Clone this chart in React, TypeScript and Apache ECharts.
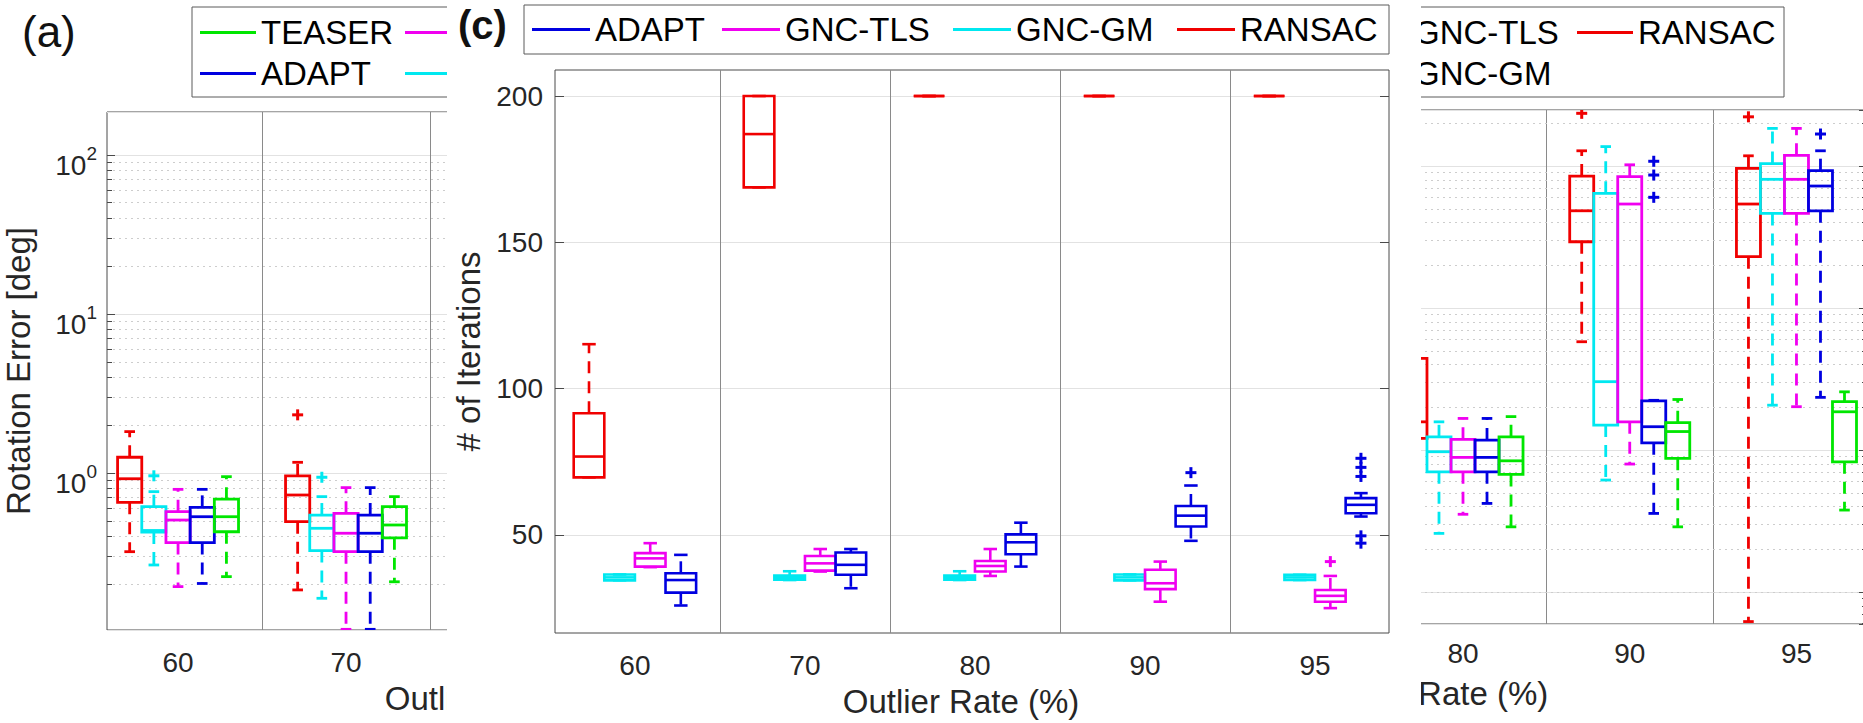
import React, { useEffect, useRef } from 'react';
import * as echarts from 'echarts';

const FONT = "'Liberation Sans', Arial, Helvetica, sans-serif";
const INK = '#262626';
const FRAME = '#4a4a4a';
const MAJOR_GRID = '#e2e2e2';
const MINOR_GRID = '#cdcdcd';
const GROUP_SEP = '#8a8a8a';

const CATEGORIES = ['60', '70', '80', '90', '95'];

const COLORS: Record<string, string> = {
  RANSAC: '#f00000',
  'GNC-GM': '#00e8f0',
  'GNC-TLS': '#f000f0',
  ADAPT: '#0000e0',
  TEASER: '#00e600',
};

// Box rows: [lower whisker, Q1, median, Q3, upper whisker]
// Outlier rows: [group index, value]

// (a) Rotation error [deg]
const rotGroups = [0, 1];
const rotRansac = [[0.32, 0.654, 0.92, 1.256, 1.82], [0.184, 0.494, 0.727, 0.958, 1.167]];
const rotGncGm = [[0.264, 0.425, 0.435, 0.614, 0.763], [0.163, 0.325, 0.449, 0.544, 0.71]];
const rotGncTls = [[0.193, 0.365, 0.506, 0.571, 0.789], [0.104, 0.32, 0.418, 0.558, 0.809]];
const rotAdapt = [[0.202, 0.365, 0.531, 0.608, 0.789], [0.104, 0.32, 0.418, 0.544, 0.809]];
const rotTeaser = [[0.223, 0.427, 0.531, 0.684, 0.948], [0.207, 0.391, 0.471, 0.614, 0.71]];
const rotOutRansac = [[1, 2.32]];
const rotOutGncGm = [[0, 0.96], [1, 0.94]];

// (b) error on a log scale
const errGroups = [2, 3, 4];
const errRansac = [[0.05, 0.121, 0.158, 0.442, 0.8], [0.579, 2.93, 4.84, 8.5, 12.8], [0.0062, 2.3, 5.4, 9.63, 11.8]];
const errGncGm = [[0.0259, 0.0703, 0.0973, 0.124, 0.158], [0.0615, 0.15, 0.303, 6.42, 13.7], [0.207, 4.64, 8.06, 10.4, 18.4]];
const errGncTls = [[0.0353, 0.0703, 0.0888, 0.119, 0.167], [0.0797, 0.158, 5.4, 8.41, 10.2], [0.202, 4.64, 8.06, 11.9, 18.4]];
const errAdapt = [[0.0421, 0.0703, 0.0888, 0.1175, 0.167], [0.0358, 0.1125, 0.146, 0.222, 0.224], [0.235, 4.84, 7.23, 9.27, 12.8]];
const errTeaser = [[0.0288, 0.0674, 0.084, 0.124, 0.172], [0.0288, 0.0874, 0.135, 0.156, 0.227], [0.0378, 0.0827, 0.186, 0.219, 0.257]];
const errOutRansac = [[3, 23.5], [4, 22.2]];
const errOutAdapt = [[3, 10.8], [3, 8.64], [3, 6.02], [4, 16.8]];

// (c) Number of iterations
const iterGroups = [0, 1, 2, 3, 4];
const iterRansac = [
  [69.7, 69.7, 76.8, 91.6, 115.2],
  [168.8, 168.8, 187.0, 200, 200],
  [200, 200, 200, 200, 200],
  [200, 200, 200, 200, 200],
  [200, 200, 200, 200, 200],
];
const iterGncGm = [
  [34.5, 34.5, 35.5, 36.5, 36.5],
  [34.6, 34.7, 35.4, 36.1, 37.6],
  [34.6, 34.7, 35.4, 36.1, 37.6],
  [34.5, 34.5, 35.5, 36.5, 36.5],
  [34.6, 34.6, 35.5, 36.4, 36.4],
];
const iterGncTls = [
  [39.0, 39.2, 42.0, 43.8, 47.2],
  [37.5, 37.8, 40.3, 42.8, 45.2],
  [36.0, 37.5, 39.4, 41.1, 45.2],
  [27.2, 31.5, 33.5, 38.1, 40.9],
  [25.0, 27.2, 29.2, 31.2, 36.0],
];
const iterAdapt = [
  [25.9, 30.3, 34.6, 36.9, 43.2],
  [31.8, 36.4, 39.8, 44.0, 45.2],
  [39.2, 43.4, 47.5, 50.2, 54.2],
  [48.0, 52.9, 56.6, 59.9, 66.9],
  [56.3, 57.4, 60.3, 62.6, 64.3],
];
const iterOutAdapt = [[3, 71.3], [4, 76.2], [4, 73.1], [4, 70.0], [4, 49.7], [4, 47.2]];
const iterOutGncTls = [[4, 40.9]];

type Panel = {
  xAxis: number;
  yAxis: number;
  order: string[];
  bw: number;
  lw: number;
  z: number;
  groups: number[];
  stats: Record<string, number[][]>;
  outliers: Record<string, number[][]>;
};

const PANEL_A: Panel = {
  xAxis: 0, yAxis: 0, bw: 0.144, lw: 2.8, z: 2,
  order: ['RANSAC', 'GNC-GM', 'GNC-TLS', 'ADAPT', 'TEASER'],
  groups: rotGroups,
  stats: { RANSAC: rotRansac, 'GNC-GM': rotGncGm, 'GNC-TLS': rotGncTls, ADAPT: rotAdapt, TEASER: rotTeaser },
  outliers: { RANSAC: rotOutRansac, 'GNC-GM': rotOutGncGm },
};
const PANEL_C: Panel = {
  xAxis: 1, yAxis: 1, bw: 0.18, lw: 2.6, z: 22,
  order: ['RANSAC', 'GNC-GM', 'GNC-TLS', 'ADAPT'],
  groups: iterGroups,
  stats: { RANSAC: iterRansac, 'GNC-GM': iterGncGm, 'GNC-TLS': iterGncTls, ADAPT: iterAdapt },
  outliers: { ADAPT: iterOutAdapt, 'GNC-TLS': iterOutGncTls },
};
const PANEL_B: Panel = {
  xAxis: 2, yAxis: 3, bw: 0.144, lw: 2.8, z: 2,
  order: ['RANSAC', 'GNC-GM', 'GNC-TLS', 'ADAPT', 'TEASER'],
  groups: errGroups,
  stats: { RANSAC: errRansac, 'GNC-GM': errGncGm, 'GNC-TLS': errGncTls, ADAPT: errAdapt, TEASER: errTeaser },
  outliers: { RANSAC: errOutRansac, ADAPT: errOutAdapt },
};

function slotOffset(panel: Panel, slot: number) {
  return (slot - (panel.order.length - 1) / 2) * panel.bw;
}

function boxSeries(panel: Panel, name: string, slot: number) {
  const color = COLORS[name];
  const data = panel.stats[name].map((s, i) => [panel.groups[i] + 1, ...s]);
  const half = panel.bw / 2;
  return {
    type: 'custom',
    name,
    xAxisIndex: panel.xAxis,
    yAxisIndex: panel.yAxis,
    z: panel.z,
    clip: true,
    silent: true,
    itemStyle: { color },
    dimensions: ['pos', 'lo', 'q1', 'med', 'q3', 'hi'],
    encode: { x: 'pos', y: ['lo', 'q1', 'med', 'q3', 'hi'] },
    data,
    renderItem: (_params: any, api: any) => {
      const cx = api.value(0) + slotOffset(panel, slot);
      const [xl, yq3] = api.coord([cx - half, api.value(4)]);
      const [xr, yq1] = api.coord([cx + half, api.value(2)]);
      const [xc, ymed] = api.coord([cx, api.value(3)]);
      const yhi = api.coord([cx, api.value(5)])[1];
      const ylo = api.coord([cx, api.value(1)])[1];
      const cap = (xr - xl) * 0.22;
      const solid = { stroke: color, lineWidth: panel.lw, fill: 'none' };
      const dashed = { stroke: color, lineWidth: panel.lw, fill: 'none', lineDash: [12, 8] };
      return {
        type: 'group',
        children: [
          { type: 'line', shape: { x1: xc, y1: yq3, x2: xc, y2: yhi }, style: dashed },
          { type: 'line', shape: { x1: xc, y1: yq1, x2: xc, y2: ylo }, style: dashed },
          { type: 'line', shape: { x1: xc - cap, y1: yhi, x2: xc + cap, y2: yhi }, style: solid },
          { type: 'line', shape: { x1: xc - cap, y1: ylo, x2: xc + cap, y2: ylo }, style: solid },
          { type: 'rect', shape: { x: xl, y: yq3, width: xr - xl, height: yq1 - yq3 }, style: solid },
          { type: 'line', shape: { x1: xl, y1: ymed, x2: xr, y2: ymed }, style: solid },
        ],
      };
    },
  };
}

function outlierSeries(panel: Panel, name: string, slot: number) {
  const color = COLORS[name];
  const pts = panel.outliers[name] || [];
  return {
    type: 'custom',
    name,
    xAxisIndex: panel.xAxis,
    yAxisIndex: panel.yAxis,
    z: panel.z,
    clip: true,
    silent: true,
    itemStyle: { color },
    dimensions: ['pos', 'v'],
    encode: { x: 'pos', y: 'v' },
    data: pts.map(([g, v]) => [g + 1, v]),
    renderItem: (_params: any, api: any) => {
      const cx = api.value(0) + slotOffset(panel, slot);
      const [x, y] = api.coord([cx, api.value(1)]);
      const r = 5.5;
      const st = { stroke: color, lineWidth: 3 };
      return {
        type: 'group',
        children: [
          { type: 'line', shape: { x1: x - r, y1: y, x2: x + r, y2: y }, style: st },
          { type: 'line', shape: { x1: x, y1: y - r, x2: x, y2: y + r }, style: st },
        ],
      };
    },
  };
}

function panelSeries(panel: Panel) {
  const out: any[] = [];
  panel.order.forEach((name, slot) => {
    out.push(boxSeries(panel, name, slot));
    if (panel.outliers[name]) out.push(outlierSeries(panel, name, slot));
  });
  return out;
}

function logMinor(lo: number, hi: number): number[] {
  const out: number[] = [];
  for (let e = Math.floor(Math.log10(lo)); e <= Math.ceil(Math.log10(hi)); e++) {
    for (let m = 2; m <= 9; m++) {
      const v = m * Math.pow(10, e);
      if (v > lo && v < hi) out.push(v);
    }
  }
  return out;
}

const markBase = {
  silent: true,
  symbol: ['none', 'none'],
  label: { show: false },
  emphasis: { disabled: true },
  animation: false,
};

// dotted minor grid lines of a log axis
function minorGridLines(lo: number, hi: number) {
  return {
    ...markBase,
    z: 1,
    lineStyle: { type: [2, 4], color: MINOR_GRID, width: 1 },
    data: logMinor(lo, hi).map((v) => ({ yAxis: v })),
  };
}

// short inward minor tick marks along one side of a log axis
function minorTickMarks(lo: number, hi: number, xFrom: number, xTo: number) {
  return {
    ...markBase,
    z: 3,
    lineStyle: { type: 'solid', color: FRAME, width: 1 },
    data: logMinor(lo, hi).map((v) => [{ coord: [xFrom, v] }, { coord: [xTo, v] }]),
  };
}

const ROT_MIN = 0.103;
const ROT_MAX = 186;
const ERR_MIN = 0.00596;
const ERR_MAX = 24.8;
const ITER_MIN = 16.5;
const ITER_MAX = 208.9;
const ITER_TICKS = [50, 100, 150, 200];
const GROUP_EDGES = [1.5, 2.5, 3.5, 4.5];
const SIDE_X_MIN = 0.577;
const SIDE_X_MAX = 5.423;

const catLabel = (v: number) => CATEGORIES[Math.round(v) - 1];
const powLabel = (v: number) => `{b|10}{e|${Math.round(Math.log10(v))}}`;

const nameStyle = (padding: number[]) => ({ fontSize: 33, color: INK, fontFamily: FONT, padding });

function legendEntry(name: string, width: number) {
  return { name, textStyle: { width, height: 33, backgroundColor: 'rgba(255,255,255,0)' } };
}

// Legend captions that sit in the open part of each side panel
const LEGEND_A_SHOWN = ['TEASER', 'ADAPT'];
const LEGEND_B_SHOWN = ['GNC-TLS', 'RANSAC', 'GNC-GM'];

function buildOption() {
  const seriesA = panelSeries(PANEL_A);
  const seriesB = panelSeries(PANEL_B);
  const seriesC = panelSeries(PANEL_C);
  seriesA[0].markLine = minorGridLines(ROT_MIN, ROT_MAX);
  seriesA[1].markLine = minorTickMarks(ROT_MIN, ROT_MAX, SIDE_X_MIN, SIDE_X_MIN + 0.03);
  seriesB[0].markLine = minorGridLines(ERR_MIN, ERR_MAX);
  seriesB[1].markLine = minorTickMarks(ERR_MIN, ERR_MAX, SIDE_X_MAX - 0.03, SIDE_X_MAX);

  const gridBase = { show: true, borderColor: FRAME, borderWidth: 1, backgroundColor: 'rgba(0,0,0,0)', outerBoundsMode: 'none', containLabel: false };

  const legendBase = {
    orient: 'horizontal',
    icon: 'rect',
    itemHeight: 3,
    selectedMode: false,
    backgroundColor: '#ffffff',
    borderColor: '#5a5a5a',
    borderWidth: 1,
    borderRadius: 0,
    textStyle: { fontSize: 33, color: '#000', fontFamily: FONT },
  };
  const twoRowData = [
    legendEntry('TEASER', 136), legendEntry('GNC-TLS', 155), legendEntry('RANSAC', 138), '',
    legendEntry('ADAPT', 136), legendEntry('GNC-GM', 155),
  ];

  return {
    animation: false,
    textStyle: { fontFamily: FONT },
    grid: [
      { ...gridBase, left: 107, top: 112, width: 814, height: 518, z: 0 },
      { ...gridBase, left: 555, top: 70, width: 834, height: 563, z: 20 },
      { ...gridBase, left: 1059, top: 110, width: 808, height: 514, z: 0 },
    ],
    xAxis: [
      {
        gridIndex: 0, type: 'value', min: SIDE_X_MIN, max: SIDE_X_MAX,
        axisLine: { show: false },
        axisTick: { show: false, customValues: GROUP_EDGES },
        splitLine: { show: true, lineStyle: { color: GROUP_SEP, width: 1 } },
        axisLabel: { customValues: [1, 2], formatter: catLabel, fontSize: 28, color: INK, margin: 18, fontFamily: FONT },
        name: 'Outlier Rate (%)', nameLocation: 'middle', nameGap: 52, nameMoveOverlap: false,
        nameTextStyle: nameStyle([0, 22, 0, 0]),
      },
      {
        gridIndex: 1, type: 'value', min: 0.53, max: 5.435, z: 21,
        axisLine: { show: false },
        axisTick: { show: false, customValues: GROUP_EDGES },
        splitLine: { show: true, lineStyle: { color: GROUP_SEP, width: 1 } },
        axisLabel: { customValues: [1, 2, 3, 4, 5], formatter: catLabel, fontSize: 28, color: INK, margin: 18, fontFamily: FONT },
        name: 'Outlier Rate (%)', nameLocation: 'middle', nameGap: 52, nameMoveOverlap: false,
        nameTextStyle: nameStyle([0, 22, 0, 0]),
      },
      {
        gridIndex: 2, type: 'value', min: SIDE_X_MIN, max: SIDE_X_MAX,
        axisLine: { show: false },
        axisTick: { show: false, customValues: GROUP_EDGES },
        splitLine: { show: true, lineStyle: { color: GROUP_SEP, width: 1 } },
        axisLabel: { customValues: [3, 4, 5], formatter: catLabel, fontSize: 28, color: INK, margin: 15, fontFamily: FONT },
        name: 'Outlier Rate (%)', nameLocation: 'middle', nameGap: 53, nameMoveOverlap: false,
        nameTextStyle: nameStyle([0, 66, 0, 0]),
      },
    ],
    yAxis: [
      {
        gridIndex: 0, type: 'log', logBase: 10, min: ROT_MIN, max: ROT_MAX,
        axisLine: { show: false },
        axisTick: { show: true, inside: true, length: 8, lineStyle: { color: FRAME } },
        splitLine: { show: true, lineStyle: { color: MAJOR_GRID, width: 1 } },
        axisLabel: {
          formatter: powLabel, showMinLabel: false, showMaxLabel: false, margin: 10,
          padding: [14, 0, 0, 0], color: INK,
          rich: {
            b: { fontSize: 28, lineHeight: 36, verticalAlign: 'bottom', color: INK, fontFamily: FONT },
            e: { fontSize: 19, lineHeight: 20, verticalAlign: 'top', color: INK, fontFamily: FONT },
          },
        },
        name: 'Rotation Error [deg]', nameLocation: 'middle', nameGap: 72, nameMoveOverlap: false,
        nameTextStyle: nameStyle([0, 0, 0, 0]),
      },
      {
        gridIndex: 1, type: 'value', min: ITER_MIN, max: ITER_MAX, z: 21,
        axisLine: { show: false },
        axisTick: { show: true, inside: true, length: 9, customValues: ITER_TICKS, lineStyle: { color: FRAME } },
        splitLine: { show: true, lineStyle: { color: MAJOR_GRID, width: 1 } },
        axisLabel: { customValues: ITER_TICKS, fontSize: 28, color: INK, margin: 12, fontFamily: FONT },
        name: '# of Iterations', nameLocation: 'middle', nameGap: 70, nameMoveOverlap: false,
        nameTextStyle: nameStyle([0, 0, 0, 0]),
      },
      {
        gridIndex: 1, type: 'value', position: 'right', min: ITER_MIN, max: ITER_MAX, z: 21,
        axisLine: { show: false },
        axisTick: { show: true, inside: true, length: 9, customValues: ITER_TICKS, lineStyle: { color: FRAME } },
        splitLine: { show: false },
        axisLabel: { show: false },
      },
      {
        gridIndex: 2, type: 'log', logBase: 10, min: ERR_MIN, max: ERR_MAX,
        axisLine: { show: false },
        axisTick: { show: true, inside: true, length: 8, lineStyle: { color: FRAME } },
        splitLine: { show: true, lineStyle: { color: MAJOR_GRID, width: 1 } },
        axisLabel: { show: false },
      },
      {
        gridIndex: 2, type: 'log', logBase: 10, position: 'right', min: ERR_MIN, max: ERR_MAX,
        axisLine: { show: false },
        axisTick: { show: true, inside: true, length: 8, lineStyle: { color: FRAME } },
        splitLine: { show: false },
        axisLabel: { show: false },
      },
    ],
    legend: [
      {
        ...legendBase, left: 192, top: 7, z: 4, padding: [9, 8, 7, 8], itemGap: 8, itemWidth: 56, data: twoRowData,
        formatter: (n: string) => (LEGEND_A_SHOWN.includes(n) ? n : ''),
      },
      {
        ...legendBase, left: 1140, top: 7, z: 4, padding: [9, 8, 7, 8], itemGap: 8, itemWidth: 56, data: twoRowData,
        formatter: (n: string) => (LEGEND_B_SHOWN.includes(n) ? n : ''),
      },
      {
        ...legendBase, left: 524, top: 5, z: 30, padding: [8, 8, 8, 8], itemGap: 13, itemWidth: 58,
        data: [legendEntry('ADAPT', 114), legendEntry('GNC-TLS', 155), legendEntry('GNC-GM', 148), legendEntry('RANSAC', 141)],
      },
    ],
    graphic: {
      elements: [
        { type: 'text', left: 22, top: 9, z: 6, silent: true, style: { text: '(a)', fontSize: 44, fontFamily: FONT, fill: '#111' } },
        { type: 'rect', z: 10, silent: true, shape: { x: 447, y: 0, width: 974, height: 723 }, style: { fill: '#ffffff' } },
        { type: 'text', left: 458, top: 5, z: 40, silent: true, style: { text: '(c)', fontSize: 40, fontWeight: 'bold', fontFamily: FONT, fill: '#111' } },
      ],
    },
    series: [...seriesA, ...seriesB, ...seriesC],
  };
}

export default function App() {
  const ref = useRef<HTMLDivElement>(null);
  useEffect(() => {
    if (!ref.current) return;
    const chart = echarts.init(ref.current, undefined, { renderer: 'svg' });
    chart.setOption(buildOption() as any);
    return () => chart.dispose();
  }, []);
  return (
    <div
      ref={ref}
      style={{ position: 'fixed', left: 0, top: 0, width: 1863, height: 723, background: '#ffffff' }}
    />
  );
}
